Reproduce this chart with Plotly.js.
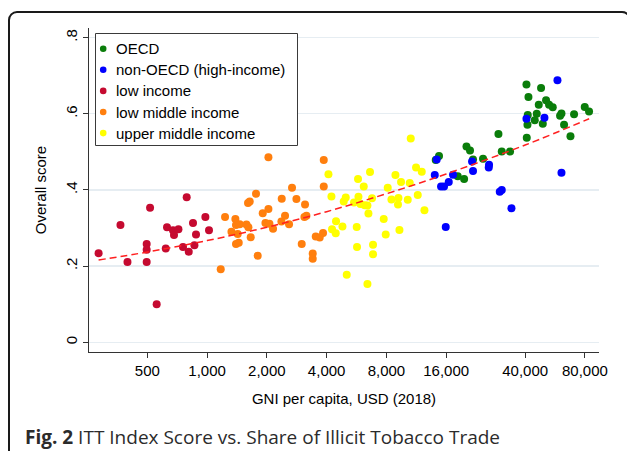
<!DOCTYPE html>
<html>
<head>
<meta charset="utf-8">
<script src="https://cdn.plot.ly/plotly-3.0.1.min.js"></script>
<style>
  html, body { margin: 0; padding: 0; background: #ffffff; }
  #wrap { position: relative; width: 627px; height: 451px; overflow: hidden; background: #fff; }
  #chart { position: absolute; left: 0; top: 0; width: 627px; height: 451px; }
  #frame { position: absolute; left: 8px; top: 10.5px; width: 623px; height: 500px;
           box-sizing: border-box; border: 2px solid #1a1a1a; border-radius: 9px; pointer-events: none; }
</style>
</head>
<body>
<div id="wrap">
  <div id="chart"></div>
  <div id="frame"></div>
</div>
<script>
// ---- Data ----
const groupNames = ['OECD', 'non-OECD (high-income)', 'low income', 'low middle income', 'upper middle income'];
const groupColors = ['#0a7d0a', '#0000ff', '#c50a30', '#ff7f0e', '#ffff00'];

const oecdGni = [40608, 48100, 41560, 50970, 46830, 52770, 55080, 79840, 83920, 41220, 45750, 44710, 49070, 41080,
                 60950, 59960, 70540, 62810, 40750, 67650, 29340, 20250, 21100, 24540, 30490, 33570, 21850, 14730, 14180, 18300, 19700];
const oecdScore = [0.677, 0.668, 0.644, 0.636, 0.624, 0.624, 0.617, 0.618, 0.606, 0.597, 0.600, 0.583, 0.574, 0.571,
                   0.601, 0.595, 0.599, 0.571, 0.537, 0.541, 0.547, 0.514, 0.504, 0.482, 0.501, 0.501, 0.480, 0.489, 0.479, 0.436, 0.429];

const nonOecdGni = [58180, 40608, 50030, 60950, 14340, 21600, 21850, 26310, 26220, 14020, 17330, 16490, 15080, 15610, 29790, 30490, 34120, 15920];
const nonOecdScore = [0.688, 0.587, 0.590, 0.445, 0.480, 0.475, 0.450, 0.466, 0.459, 0.439, 0.440, 0.421, 0.409, 0.409, 0.395, 0.400, 0.352, 0.303];

const lowGni = [284, 366, 397, 516, 496, 496, 496, 557, 619, 628, 673, 681, 717, 756, 789, 808, 849, 863, 879, 980, 1022];
const lowScore = [0.234, 0.308, 0.211, 0.353, 0.258, 0.243, 0.211, 0.100, 0.246, 0.302, 0.294, 0.282, 0.297, 0.250, 0.381, 0.238, 0.313, 0.255, 0.283, 0.329, 0.294];

const lowMidGni = [1171, 1231, 1326, 1388, 1398, 1426, 1443, 1398, 1459, 1578, 1614, 1607, 1639, 1658, 1763, 1798, 2036, 3868, 3868, 2677,
                   2376, 2817, 3113, 1906, 2036, 2469, 2367, 3164, 3092, 1967, 2060, 2586, 2148, 3525, 3692, 3837, 2996, 3404, 3404];
const lowMidScore = [0.192, 0.329, 0.290, 0.324, 0.258, 0.284, 0.261, 0.308, 0.310, 0.309, 0.302, 0.366, 0.370, 0.276, 0.390, 0.227, 0.486, 0.479, 0.409, 0.406,
                     0.377, 0.376, 0.362, 0.339, 0.350, 0.332, 0.317, 0.332, 0.329, 0.313, 0.311, 0.310, 0.298, 0.278, 0.275, 0.287, 0.258, 0.233, 0.219];

const upMidGni = [4085, 4229, 4992, 4877, 4460, 4258, 4444, 4805, 5050, 5495, 5757, 5784, 5920, 6222, 6420, 6151, 6616, 6772, 6495, 5670,
                  5690, 6850, 6850, 6420, 7755, 7937, 8124, 8480, 8884, 9198, 9150, 9305, 9480, 10247, 10486, 11283, 11506, 12054, 12436, 10610];
const upMidScore = [0.441, 0.383, 0.380, 0.370, 0.318, 0.297, 0.286, 0.304, 0.177, 0.367, 0.429, 0.382, 0.363, 0.360, 0.359, 0.409, 0.447, 0.378, 0.338, 0.303,
                    0.250, 0.256, 0.231, 0.153, 0.324, 0.283, 0.406, 0.375, 0.439, 0.379, 0.362, 0.295, 0.421, 0.374, 0.418, 0.459, 0.387, 0.448, 0.347, 0.535];

// fitted curve, values
const fitGni = [284, 500, 1000, 2000, 4000, 8000, 16000, 40000, 84000];
const fitScore = [0.216, 0.237, 0.267, 0.302, 0.343, 0.390, 0.442, 0.518, 0.587];

const xTickVals = [500, 1000, 2000, 4000, 8000, 16000, 40000, 80000];
const xTickText = ['500', '1,000', '2,000', '4,000', '8,000', '16,000', '40,000', '80,000'];
const yTickVals = [0, 0.2, 0.4, 0.6, 0.8];
const yTickText = ['0', '.2', '.4', '.6', '.8'];

const xTitle = 'GNI per capita, USD (2018)';
const yTitle = 'Overall score';
const caption = '<b>Fig. 2</b> ITT Index Score vs. Share of Illicit Tobacco Trade';

// ---- Build ----
const groupsX = [oecdGni, nonOecdGni, lowGni, lowMidGni, upMidGni];
const groupsY = [oecdScore, nonOecdScore, lowScore, lowMidScore, upMidScore];

const traces = [];
[2, 3, 4, 0, 1].forEach(function (i) {
  traces.push({
    type: 'scatter', mode: 'markers', name: groupNames[i],
    x: groupsX[i], y: groupsY[i],
    marker: { color: groupColors[i], size: 8, line: { width: 0 } },
    showlegend: false, hoverinfo: 'x+y'
  });
});
traces.push({
  type: 'scatter', mode: 'lines', name: 'fit',
  x: fitGni, y: fitScore, line: { color: '#ff2020', width: 1.5, dash: '7px,4px', shape: 'spline' },
  showlegend: false
});

// plot area in pixels
const M = { l: 89, r: 28, t: 28, b: 99 };
const W = 627, H = 451;
const pw = W - M.l - M.r, ph = H - M.t - M.b;
function px2x(p) { return (p - M.l) / pw; }
function py2y(p) { return (H - M.b - p) / ph; }

const shapes = [{
  type: 'rect', xref: 'paper', yref: 'paper', layer: 'above',
  x0: px2x(95.5), x1: px2x(297.5), y0: py2y(145.5), y1: py2y(33.5),
  line: { color: '#3a3a3a', width: 1 }, fillcolor: '#ffffff'
}];
const annotations = [];
const legendOrder = [0, 1, 2, 3, 4];
legendOrder.forEach(function (i, k) {
  const rowY = 48.7 + k * 21.1;
  shapes.push({
    type: 'circle', xref: 'paper', yref: 'paper', layer: 'above',
    xsizemode: 'pixel', ysizemode: 'pixel', xanchor: px2x(103.2), yanchor: py2y(rowY),
    x0: -3.3, x1: 3.3, y0: -3.3, y1: 3.3,
    fillcolor: groupColors[i], line: { width: 0 }
  });
  annotations.push({
    xref: 'paper', yref: 'paper', x: px2x(113.5), y: py2y(rowY),
    xanchor: 'left', yanchor: 'middle', showarrow: false,
    text: groupNames[i], font: { family: 'Liberation Sans, Arial, sans-serif', size: 15, color: '#000' }
  });
});
annotations.push({
  xref: 'paper', yref: 'paper', x: px2x(23), y: py2y(437),
  xanchor: 'left', yanchor: 'middle', showarrow: false,
  text: caption, font: { family: 'Open Sans, sans-serif', size: 19, color: '#2b2b2b' }
});

const axisFont = { family: 'Liberation Sans, Arial, sans-serif', size: 15, color: '#000' };

const layout = {
  width: W, height: H,
  margin: M,
  paper_bgcolor: 'rgba(0,0,0,0)', plot_bgcolor: 'rgba(0,0,0,0)',
  showlegend: false,
  font: axisFont,
  xaxis: {
    type: 'log', range: [2.405, 4.974],
    tickvals: xTickVals, ticktext: xTickText,
    showgrid: false, zeroline: false,
    showline: true, linecolor: '#333', linewidth: 1,
    ticks: 'outside', ticklen: 5, tickcolor: '#333', tickwidth: 1,
    tickfont: axisFont,
    title: { text: xTitle, font: axisFont, standoff: 15 }
  },
  yaxis: {
    range: [-0.0257, 0.8255],
    tickvals: yTickVals, ticktext: yTickText, tickangle: -90,
    showgrid: true, gridcolor: '#e6edf2', gridwidth: 1.3, zeroline: false,
    showline: true, linecolor: '#333', linewidth: 1,
    ticks: 'outside', ticklen: 5, tickcolor: '#333', tickwidth: 1,
    tickfont: axisFont,
    title: { text: yTitle, font: axisFont, standoff: 12 }
  },
  shapes: shapes,
  annotations: annotations
};

Plotly.newPlot('chart', traces, layout, { staticPlot: true, displayModeBar: false });
</script>
</body>
</html>
